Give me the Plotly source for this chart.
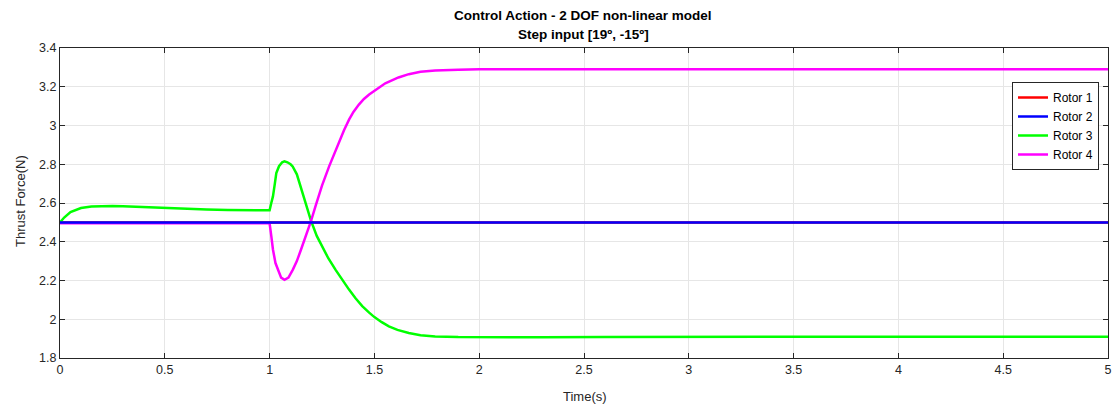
import plotly.graph_objects as go

# ---- data ----
t_const = [0, 5]
rotor1 = [2.5, 2.5]
rotor2 = [2.5, 2.5]

t_r3 = [0, 0.02, 0.05, 0.1, 0.15, 0.2, 0.25, 0.3, 0.4, 0.5, 0.6, 0.7, 0.8, 0.9, 1.0,
        1.008, 1.016, 1.025, 1.032, 1.045, 1.06, 1.071, 1.085, 1.1, 1.11, 1.13, 1.15,
        1.173, 1.197, 1.225, 1.252, 1.28, 1.315, 1.345, 1.379, 1.41, 1.442, 1.475, 1.5,
        1.535, 1.569, 1.61, 1.664, 1.72, 1.79, 1.9, 2.0, 2.3, 2.6, 3.0, 4.0, 5.0]
rotor3 = [2.50, 2.525, 2.553, 2.574, 2.582, 2.585, 2.585, 2.583, 2.578, 2.573, 2.569, 2.566, 2.564, 2.563, 2.562,
          2.60, 2.634, 2.70, 2.755, 2.79, 2.81, 2.815, 2.81, 2.80, 2.789, 2.748, 2.68,
          2.595, 2.51, 2.43, 2.37, 2.315, 2.255, 2.205, 2.153, 2.108, 2.068, 2.034, 2.011,
          1.985, 1.963, 1.945, 1.929, 1.918, 1.911, 1.908, 1.907, 1.907, 1.908, 1.909, 1.91, 1.91]

t_r4 = [0, 0.5, 1.0,
        1.008, 1.016, 1.028, 1.04, 1.055, 1.071, 1.09, 1.111, 1.13, 1.15, 1.17, 1.19,
        1.197, 1.221, 1.25, 1.284, 1.31, 1.331, 1.355, 1.379, 1.4, 1.426, 1.45, 1.475,
        1.5, 1.552, 1.615, 1.664, 1.72, 1.79, 1.9, 2.0, 3.0, 4.0, 5.0]
rotor4 = [2.495, 2.495, 2.495,
          2.43, 2.36, 2.29, 2.256, 2.215, 2.204, 2.215, 2.256, 2.30, 2.36, 2.42, 2.48,
          2.505, 2.59, 2.69, 2.789, 2.86, 2.915, 2.975, 3.03, 3.07, 3.108, 3.137, 3.16,
          3.18, 3.218, 3.248, 3.265, 3.277, 3.284, 3.288, 3.29, 3.29, 3.29, 3.29]

x_ticks = [0, 0.5, 1, 1.5, 2, 2.5, 3, 3.5, 4, 4.5, 5]
x_labels = ["0", "0.5", "1", "1.5", "2", "2.5", "3", "3.5", "4", "4.5", "5"]
y_ticks = [1.8, 2, 2.2, 2.4, 2.6, 2.8, 3, 3.2, 3.4]
y_labels = ["1.8", "2", "2.2", "2.4", "2.6", "2.8", "3", "3.2", "3.4"]

FONT = "Liberation Sans, Arial, sans-serif"
AX = "#262626"

fig = go.Figure()
line_kw = dict(width=2.5)
fig.add_trace(go.Scatter(x=t_const, y=rotor1, mode="lines", name="Rotor 1",
                         line=dict(color="#ff0000", **line_kw), legendrank=1))
fig.add_trace(go.Scatter(x=t_r3, y=rotor3, mode="lines", name="Rotor 3",
                         line=dict(color="#00ff00", **line_kw), legendrank=3))
fig.add_trace(go.Scatter(x=t_r4, y=rotor4, mode="lines", name="Rotor 4",
                         line=dict(color="#ff00ff", **line_kw), legendrank=4))
fig.add_trace(go.Scatter(x=t_const, y=rotor2, mode="lines", name="Rotor 2",
                         line=dict(color="#0000ff", **line_kw), legendrank=2))

L, R, T, B = 60, 6, 48, 47
W, H = 1114, 405
pw, ph = W - L - R, H - T - B

fig.update_layout(
    width=W, height=H,
    margin=dict(l=L, r=R, t=T, b=B, autoexpand=False),
    paper_bgcolor="white", plot_bgcolor="white",
    font=dict(family=FONT, size=12, color=AX),
    legend=dict(x=(1012 - L) / pw, y=1 - (82 - T) / ph, xanchor="left", yanchor="top",
                bgcolor="white", bordercolor=AX, borderwidth=1,
                font=dict(family=FONT, size=12, color="#000000"),
                tracegroupgap=0, itemwidth=30),
    showlegend=True,
    annotations=[
        dict(text="<b>Control Action - 2 DOF non-linear model</b>", xref="paper", yref="paper",
             x=(583 - L) / pw, y=1 + (T - 15) / ph, xanchor="center", yanchor="middle",
             showarrow=False, font=dict(family=FONT, size=13.5, color="#000000")),
        dict(text="<b>Step input [19º, -15º]</b>", xref="paper", yref="paper",
             x=(583 - L) / pw, y=1 + (T - 34) / ph, xanchor="center", yanchor="middle",
             showarrow=False, font=dict(family=FONT, size=13.5, color="#000000")),
        dict(text="Thrust Force(N)", xref="paper", yref="paper", textangle=-90,
             x=(20 - L) / pw, y=(H - B - 201) / ph, xanchor="center", yanchor="middle",
             showarrow=False, font=dict(family=FONT, size=13, color=AX)),
        dict(text="Time(s)", xref="paper", yref="paper",
             x=(585 - L) / pw, y=-(396 - (H - B)) / ph, xanchor="center", yanchor="middle",
             showarrow=False, font=dict(family=FONT, size=13, color=AX)),
    ],
)
fig.update_xaxes(range=[0, 5], tickvals=x_ticks, ticktext=x_labels,
                 showgrid=True, gridcolor="#e6e6e6", gridwidth=1,
                 showline=True, linecolor=AX, linewidth=1, mirror="ticks",
                 ticks="inside", ticklen=5, tickcolor=AX, zeroline=False,
                 tickfont=dict(size=12.5, color=AX), automargin=False)
fig.update_yaxes(range=[1.8, 3.4], tickvals=y_ticks, ticktext=y_labels,
                 showgrid=True, gridcolor="#e6e6e6", gridwidth=1,
                 showline=True, linecolor=AX, linewidth=1, mirror="ticks",
                 ticks="inside", ticklen=5, tickcolor=AX, zeroline=False,
                 tickfont=dict(size=12.5, color=AX), automargin=False)

fig.write_html("out.html", config={"displayModeBar": False},
               post_script="document.body.style.margin='0';document.body.style.overflow='hidden';")
